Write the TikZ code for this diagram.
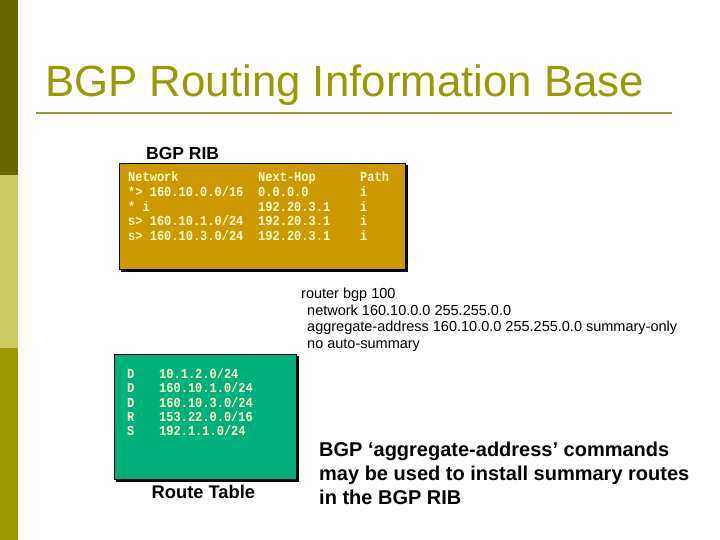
\documentclass[tikz,border=0pt]{standalone}
\usepackage{fontspec}
\setmainfont{Liberation Sans}
\newfontfamily\monob{Liberation Mono}[BoldFont={* Bold}]
\definecolor{bardark}{HTML}{666600}
\definecolor{barlight}{HTML}{CCCC66}
\definecolor{barolive}{HTML}{999900}
\definecolor{titlecol}{HTML}{999900}
\definecolor{rulecol}{HTML}{999933}
\definecolor{goldbox}{HTML}{CC9900}
\definecolor{greenbox}{HTML}{00B07A}
\definecolor{cream}{HTML}{FFFFCC}
\newcommand{\tallmono}[1]{\scalebox{1}[1.15]{#1}}
\begin{document}
\begin{tikzpicture}[x=1pt,y=-1pt,
  mono/.style={anchor=base west,inner sep=0pt,text=cream,font=\monob\bfseries\fontsize{12}{12}\selectfont},
  cfg/.style={anchor=base west,inner sep=0pt,font=\fontsize{14.5}{14.5}\selectfont},
  big/.style={anchor=base west,inner sep=0pt,font=\bfseries\fontsize{20}{20}\selectfont},
  lbl/.style={anchor=base west,inner sep=0pt,font=\bfseries\fontsize{17.5}{17.5}\selectfont},
  panel/.style={draw=black,line width=0.8pt}]
\useasboundingbox (0,0) rectangle (720,540);
% left bar
\fill[bardark] (0,0) rectangle (18,175);
\fill[barlight] (0,175) rectangle (18,348);
\fill[barolive] (0,348) rectangle (18,540);
% title
\node[anchor=base west,inner sep=0pt,text=titlecol,font=\fontsize{43.8}{43.8}\selectfont] (title) at (45,97) {BGP Routing Information Base};
\draw[rulecol,line width=2pt] (36,113) coordinate (r1) -- (672,113) coordinate (r2);
% BGP RIB box
\node[lbl] (riblbl) at (146,160) {BGP RIB};
\fill[black] (121,165) rectangle (407.5,271.5);
\path[panel,fill=goldbox] (119,163) rectangle (405,269);
\node[mono] (h1) at (128,182) {\tallmono{Network}};
\node[mono] (h2) at (258,182) {\tallmono{Next-Hop}};
\node[mono] (h3) at (360,182) {\tallmono{Path}};
\node[mono] (a1) at (128,196.6) {\tallmono{*> 160.10.0.0/16}};
\node[mono] (a2) at (258,196.6) {\tallmono{0.0.0.0}};
\node[mono] (a3) at (360,196.6) {\tallmono{i}};
\node[mono] (b1) at (128,211.2) {\tallmono{* i}};
\node[mono] (b2) at (258,211.2) {\tallmono{192.20.3.1}};
\node[mono] (b3) at (360,211.2) {\tallmono{i}};
\node[mono] (c1) at (128,225.8) {\tallmono{s> 160.10.1.0/24}};
\node[mono] (c2) at (258,225.8) {\tallmono{192.20.3.1}};
\node[mono] (c3) at (360,225.8) {\tallmono{i}};
\node[mono] (d1) at (128,240.4) {\tallmono{s> 160.10.3.0/24}};
\node[mono] (d2) at (258,240.4) {\tallmono{192.20.3.1}};
\node[mono] (d3) at (360,240.4) {\tallmono{i}};
% config
\node[cfg] (cf1) at (301,298.5) {router bgp 100};
\node[cfg] (cf2) at (307,315) {network 160.10.0.0 255.255.0.0};
\node[cfg] (cf3) at (307,331.5) {aggregate-address 160.10.0.0 255.255.0.0 summary-only};
\node[cfg] (cf4) at (307,348) {no auto-summary};
% route table box
\fill[black] (116,356) rectangle (298.5,481.5);
\path[panel,fill=greenbox] (114,354) rectangle (296.5,479.5);
\node[mono] (t1) at (127,378.5) {\tallmono{D}};
\node[mono] (u1) at (159,378.5) {\tallmono{10.1.2.0/24}};
\node[mono] (t2) at (127,392.8) {\tallmono{D}};
\node[mono] (u2) at (159,392.8) {\tallmono{160.10.1.0/24}};
\node[mono] (t3) at (127,407.1) {\tallmono{D}};
\node[mono] (u3) at (159,407.1) {\tallmono{160.10.3.0/24}};
\node[mono] (t4) at (127,421.4) {\tallmono{R}};
\node[mono] (u4) at (159,421.4) {\tallmono{153.22.0.0/16}};
\node[mono] (t5) at (127,435.7) {\tallmono{S}};
\node[mono] (u5) at (159,435.7) {\tallmono{192.1.1.0/24}};
\node[lbl,font=\bfseries\fontsize{18.3}{18.3}\selectfont] (rtlbl) at (151.5,498) {Route Table};
% bottom text
\node[big] (n1) at (319,456) {BGP ‘aggregate-address’ commands};
\node[big] (n2) at (319,480) {may be used to install summary routes};
\node[big] (n3) at (319,504) {in the BGP RIB};
\end{tikzpicture}
\end{document}
